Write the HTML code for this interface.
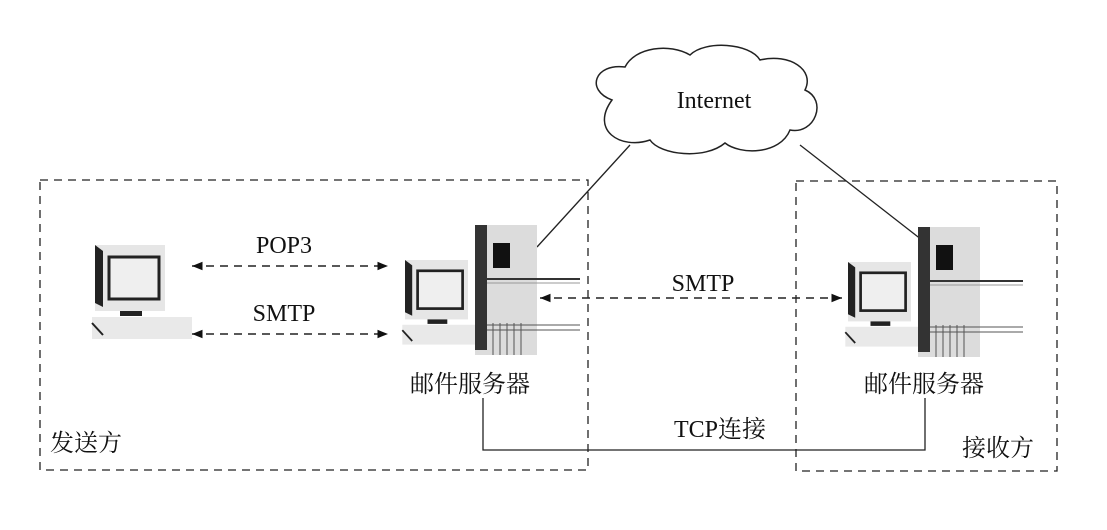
<!DOCTYPE html>
<html><head><meta charset="utf-8"><style>
body{margin:0;background:#fff}
svg{display:block}
text{font-family:"Liberation Serif","Noto Serif CJK SC",serif;fill:#111}
.cjk{font-family:"Liberation Serif","Noto Serif CJK SC",serif}
</style></head><body>
<svg width="1107" height="530" viewBox="0 0 1107 530">
<defs>
<marker id="a" viewBox="0 0 10 10" refX="10" refY="5" markerWidth="9" markerHeight="7" orient="auto-start-reverse"><path d="M0,1 L10,5 L0,9 z" fill="#111"/></marker>
<g id="pc">
 <rect x="0" y="0" width="70" height="66" fill="#e6e6e6"/>
 <polygon points="0,0 8,6 8,62 0,58" fill="#222"/>
 <rect x="14" y="12" width="50" height="42" fill="#efefef" stroke="#222" stroke-width="3"/>
 <rect x="25" y="66" width="22" height="5" fill="#222"/>
 <rect x="-3" y="72" width="100" height="22" fill="#e9e9e9"/>
 <line x1="-3" y1="78" x2="8" y2="90" stroke="#222" stroke-width="2"/>
</g>
<g id="srv">
 <use href="#pc" transform="translate(-70,35) scale(0.9)"/>
 <rect x="0" y="0" width="62" height="130" fill="#dcdcdc"/>
 <rect x="0" y="0" width="12" height="125" fill="#333"/>
 <rect x="18" y="18" width="17" height="25" fill="#111"/>
 <line x1="12" y1="54" x2="105" y2="54" stroke="#333" stroke-width="2"/>
 <line x1="12" y1="58" x2="105" y2="58" stroke="#999"/>
 <line x1="12" y1="100" x2="105" y2="100" stroke="#555"/>
 <line x1="12" y1="105" x2="105" y2="105" stroke="#555"/>
 <g stroke="#555"><line x1="18" y1="98" x2="18" y2="130"/><line x1="25" y1="98" x2="25" y2="130"/><line x1="32" y1="98" x2="32" y2="130"/><line x1="39" y1="98" x2="39" y2="130"/><line x1="46" y1="98" x2="46" y2="130"/></g>
</g>
</defs>
<g fill="none" stroke="#222" stroke-width="1.3" stroke-dasharray="8,6">
<rect x="40" y="180" width="548" height="290"/>
<rect x="796" y="181" width="261" height="290"/>
</g>
<path d="M612,100 C585,90 595,63 625,67 C635,47 670,43 690,55 C705,40 750,43 760,60 C790,53 815,70 805,90 C828,100 815,135 790,130 C780,155 740,155 725,143 C705,160 660,155 650,140 C620,150 590,130 612,100 Z" fill="#fff" stroke="#222" stroke-width="1.5"/>
<text x="714" y="108" font-size="24" text-anchor="middle">Internet</text>
<line x1="630" y1="145" x2="537" y2="247" stroke="#222" stroke-width="1.3"/>
<line x1="800" y1="145" x2="922" y2="240" stroke="#222" stroke-width="1.3"/>
<use href="#pc" transform="translate(95,245)"/>
<use href="#srv" transform="translate(475,225)"/>
<use href="#srv" transform="translate(918,227)"/>
<g stroke="#222" stroke-width="1.5" stroke-dasharray="8,6" fill="none">
<line x1="192" y1="266" x2="388" y2="266" marker-start="url(#a)" marker-end="url(#a)"/>
<line x1="192" y1="334" x2="388" y2="334" marker-start="url(#a)" marker-end="url(#a)"/>
<line x1="540" y1="298" x2="842" y2="298" marker-start="url(#a)" marker-end="url(#a)"/>
</g>
<text x="284" y="253" font-size="24" text-anchor="middle">POP3</text>
<text x="284" y="321" font-size="24" text-anchor="middle">SMTP</text>
<text x="703" y="291" font-size="24" text-anchor="middle">SMTP</text>
<text class="cjk" x="470" y="392" font-size="24" text-anchor="middle">邮件服务器</text>
<text class="cjk" x="924" y="392" font-size="24" text-anchor="middle">邮件服务器</text>
<polyline points="483,398 483,450 925,450 925,398" fill="none" stroke="#222" stroke-width="1.3"/>
<text x="720" y="437" font-size="24" text-anchor="middle">TCP<tspan class="cjk">连接</tspan></text>
<text class="cjk" x="50" y="451" font-size="24">发送方</text>
<text class="cjk" x="962" y="456" font-size="24">接收方</text>
</svg>
</body></html>
